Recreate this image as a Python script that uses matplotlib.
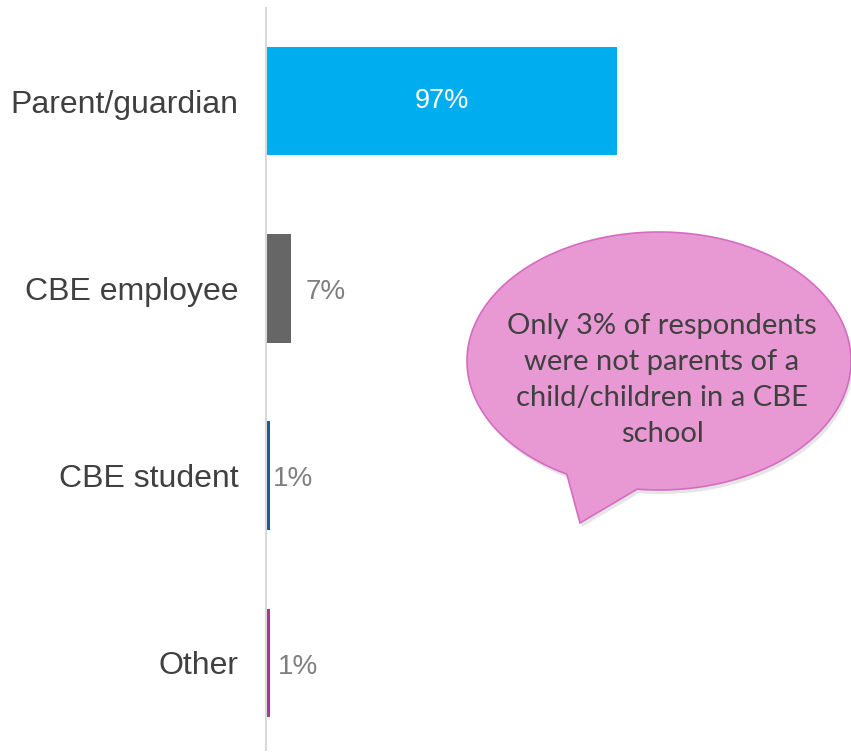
import numpy as np
import matplotlib
matplotlib.use("Agg")
import matplotlib.pyplot as plt
from matplotlib.path import Path
from matplotlib.patches import PathPatch
from matplotlib.transforms import Affine2D

# data
categories = ["Parent/guardian", "CBE employee", "CBE student", "Other"]
values = [97, 7, 1, 1]
bar_colors = ["#00AEEF", "#666666", "#1B5A96", "#A9349E"]
callout = "Only 3% of respondents\nwere not parents of a\nchild/children in a CBE\nschool"

W, H = 851, 754
fig = plt.figure(figsize=(W / 100, H / 100), dpi=100)
ax = fig.add_axes([266 / W, 4 / H, (W - 266) / W, 742 / H])

y = np.arange(len(categories))
ax.barh(y, values, height=0.58, color=bar_colors, zorder=2)
ax.set_xlim(0, 161.6)
ax.set_ylim(3.465, -0.497)

label_offsets = [0, 10, 2, 6]  # points, right of bar end
for i, v in enumerate(values):
    if v > 50:
        ax.text(v / 2, i, f"{v}%", color="white", fontsize=19.5, ha="center",
                va="center", family="Liberation Sans")
    else:
        ax.annotate(f"{v}%", (v, i + 0.02), xytext=(label_offsets[i], 0),
                    textcoords="offset points", color="#7F7F7F", fontsize=20,
                    ha="left", va="center", family="Liberation Sans")

ax.set_yticks(y)
ax.set_yticklabels(categories, fontsize=23, color="#404040", family="Liberation Sans")
ax.tick_params(axis="y", length=0, pad=20)
ax.set_xticks([])
for s in ["top", "right", "bottom"]:
    ax.spines[s].set_visible(False)
ax.spines["left"].set_color("#D9D9D9")
ax.spines["left"].set_linewidth(1.5)

# speech bubble (pixel coords, y measured from top)
cx, cy, a, b = 659, 361, 192, 129
left_pt = (567, 474)
right_pt = (637, 490)
tip = (580, 523)
ang_r = np.arctan2(-(right_pt[1] - cy) / b, (right_pt[0] - cx) / a)
ang_l = np.arctan2(-(left_pt[1] - cy) / b, (left_pt[0] - cx) / a)
if ang_l < ang_r:
    ang_l += 2 * np.pi
t = np.linspace(ang_r, ang_l, 300)
xs = cx + a * np.cos(t)
ys = H - (cy - b * np.sin(t))
verts = list(zip(xs, ys)) + [(tip[0], H - tip[1]), (xs[0], ys[0])]
codes = [Path.MOVETO] + [Path.LINETO] * (len(verts) - 2) + [Path.CLOSEPOLY]
bubble = Path(verts, codes)

fig.add_artist(PathPatch(bubble, facecolor="#000000", alpha=0.10, edgecolor="none",
                         transform=Affine2D().translate(2, -4)))
fig.add_artist(PathPatch(bubble, facecolor="#E899D4", edgecolor="#D66CC2",
                         linewidth=1.2, transform=Affine2D()))

fig.text(662 / W, 1 - 380 / H, callout, ha="center", va="center", fontsize=21,
         color="#404040", family="Lato", linespacing=1.47)

fig.savefig("out.png", dpi=100)
